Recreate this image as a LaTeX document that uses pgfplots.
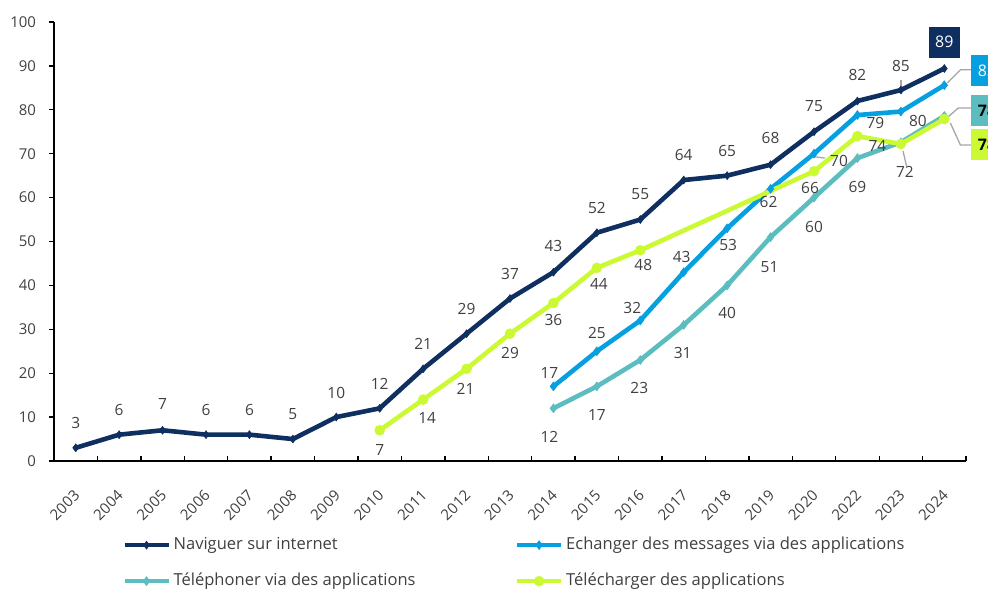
\documentclass[border=0pt]{standalone}
\usepackage{pgfplots}
\pgfplotsset{compat=1.18}
\usepackage{pgfplotstable}
\usepackage{fontspec}
\setmainfont{Open Sans}
\definecolor{cnavy}{HTML}{0E2F5F}
\definecolor{cblue}{HTML}{06A0E0}
\definecolor{cteal}{HTML}{5BBDBF}
\definecolor{clime}{HTML}{CBFA33}
\definecolor{labgray}{HTML}{404040}
\definecolor{leadgray}{HTML}{A6A6A6}

% x = category index (0=2003 ... 17=2020, 18=2022, 19=2023, 20=2024)
\pgfplotstableread{
x y lab dx dy
0 3 3 0 25
1 6 6 0 25
2 7 7 0 26
3 6 6 0 25
4 6 6 0 25
5 5 5 0 25
6 10 10 0 24
7 12 12 0 24
8 21 21 0 25
9 29 29 0 25
10 37 37 0 25
11 43 43 0 26
12 52 52 0 25
13 55 55 0 25
14 64 64 0 25
15 65 65 0 25
16 67.5 68 0 27
17 75 75 0 26
18 82 82 0 26
19 84.5 85 0 24
20 89.4 {} 0 0
}\navydata

\pgfplotstableread{
x y lab dx dy
11 17 17 -4 13
12 25 25 0 18
13 32 32 -8 13
14 43 43 -2 15
15 53 53 1 -17
16 62 62 -2 -13
17 70 70 25 -7
18 78.8 79 18 -8
19 79.6 80 17 -9
20 85.6 {} 0 0
}\bluedata

\pgfplotstableread{
x y lab dx dy
11 12 12 -4 -29
12 17 17 0 -29
13 23 23 -1 -28
14 31 31 -1 -28
15 40 40 0 -28
16 51 51 -1 -30
17 60 60 0 -29
18 69 69 0 -29
19 72.6 {} 0 0
20 78.6 {} 0 0
}\tealdata

\pgfplotstableread{
x y lab dx dy
7 7 7 0 -20
8 14 14 4 -18
9 21 21 -1 -20
10 29 29 0 -19
11 36 36 0 -17
12 44 44 2 -16
13 48 48 3 -15
17 66 66 -4 -17
18 74 74 20 -10
19 72.2 72 4 -28
20 77.9 {} 0 0
}\limedata

\pgfplotsset{
  lbl/.style={
    nodes near coords={\pgfplotspointmeta},
    point meta=explicit symbolic,
    visualization depends on={\thisrow{dx}\as\mydx},
    visualization depends on={\thisrow{dy}\as\mydy},
    nodes near coords style={anchor=center, inner sep=0pt, xshift=\mydx bp, yshift=\mydy bp,
      font=\fontsize{15.5}{18}\selectfont, text=labgray},
  },
}

\begin{document}
\begin{tikzpicture}
\begin{axis}[
  scale only axis,
  width=912bp, height=439bp,
  xmin=-0.5, xmax=20.5,
  ymin=0, ymax=100,
  axis x line*=bottom, axis y line*=left,
  axis line style={black, line width=1.3bp},
  xtick={0,...,20},
  xticklabels={2003,2004,2005,2006,2007,2008,2009,2010,2011,2012,2013,2014,2015,2016,2017,2018,2019,2020,2022,2023,2024},
  minor xtick={-0.5,0.5,...,20.5},
  ytick={0,10,...,100},
  tick align=center,
  major tick length=5bp, minor tick length=5bp,
  major x tick style={draw=none},
  minor x tick style={black, line width=1.3bp, yshift=2.5bp},
  ytick style={black, line width=1.3bp, xshift=-2.5bp},
  /pgf/number format/assume math mode=true,
  tick label style={font=\fontsize{15}{18}\selectfont, text=labgray},
  xticklabel style={rotate=45, anchor=north east, inner sep=0pt, xshift=-20bp, yshift=-16bp},
  yticklabel style={xshift=-12bp},
  clip=false,
  legend columns=2,
  legend style={draw=none, fill=none, at={(0.0746,-0.173)}, anchor=north west,
    inner sep=0pt, column sep=0pt, row sep=20bp,
    nodes={inner sep=0pt, text height=12bp, text depth=4bp, font=\fontsize{16.6}{19}\selectfont, text=labgray}},
  legend cell align=left,
  legend image code/.code={\draw[#1, mark repeat=2, mark phase=2] plot coordinates {(0bp,0bp) (22bp,0bp) (44bp,0bp)};},
]
\addplot[cnavy, line width=4.6bp, mark=diamond*, mark size=4bp, mark options={line width=0.5bp}, lbl]
  table[x=x, y=y, meta=lab]{\navydata};
\addlegendentry{\makebox[344bp][l]{\,Naviguer sur internet}}
\addplot[cblue, line width=4.6bp, mark=diamond*, mark size=4.5bp, mark options={line width=0.5bp}, lbl]
  table[x=x, y=y, meta=lab]{\bluedata};
\addlegendentry{\,Echanger des messages via des applications}
\addplot[cteal, line width=4.6bp, mark=diamond*, mark size=4.5bp, mark options={line width=0.5bp}, lbl]
  table[x=x, y=y, meta=lab]{\tealdata};
\addlegendentry{\makebox[344bp][l]{\,Téléphoner via des applications}}
\addplot[clime, line width=4.6bp, mark=*, mark size=5bp, mark options={line width=0.5bp}, lbl]
  table[x=x, y=y, meta=lab]{\limedata};
\addlegendentry{\,Télécharger des applications}

% leader lines
\draw[leadgray, line width=1.3bp] (axis cs:20.07,86.1) -- (axis cs:20.37,89.1) -- (axis cs:20.62,89.1);
\draw[leadgray, line width=1.3bp] (axis cs:20.09,78.4) -- (axis cs:20.32,80.4) -- (axis cs:20.62,80.4);
\draw[leadgray, line width=1.3bp] (axis cs:20.14,77.0) -- (axis cs:20.37,72.0) -- (axis cs:20.62,72.0);
\draw[leadgray, line width=1.3bp] (axis cs:19,86.8) -- (axis cs:19,84.9);
\draw[leadgray, line width=1.3bp] (axis cs:19.05,70.6) -- (axis cs:19.13,67.2);
\draw[leadgray, line width=1.3bp] (axis cs:17.02,69.3) -- (axis cs:17.25,69.0);

% end-value boxes
\node[fill=cnavy, text=white, minimum width=31bp, minimum height=31bp, inner sep=0pt,
  font=\fontsize{16}{19}\selectfont] at (axis cs:20,95.4) {89};
\node[fill=cblue, text=white, minimum width=31bp, minimum height=31bp, inner sep=0pt, anchor=west,
  font=\fontsize{16}{19}\selectfont] at (axis cs:20.62,88.95) {85};
\node[fill=cteal, text=black, minimum width=31bp, minimum height=31bp, inner sep=0pt, anchor=west,
  font=\bfseries\fontsize{16}{19}\selectfont] at (axis cs:20.62,79.8) {78};
\node[fill=clime, text=black, minimum width=31bp, minimum height=31bp, inner sep=0pt, anchor=west,
  font=\bfseries\fontsize{16}{19}\selectfont] at (axis cs:20.62,72.1) {78};
\end{axis}
\pgfresetboundingbox
\path[use as bounding box] (-54bp,-131bp) rectangle (934bp,461bp);
\end{tikzpicture}
\end{document}
